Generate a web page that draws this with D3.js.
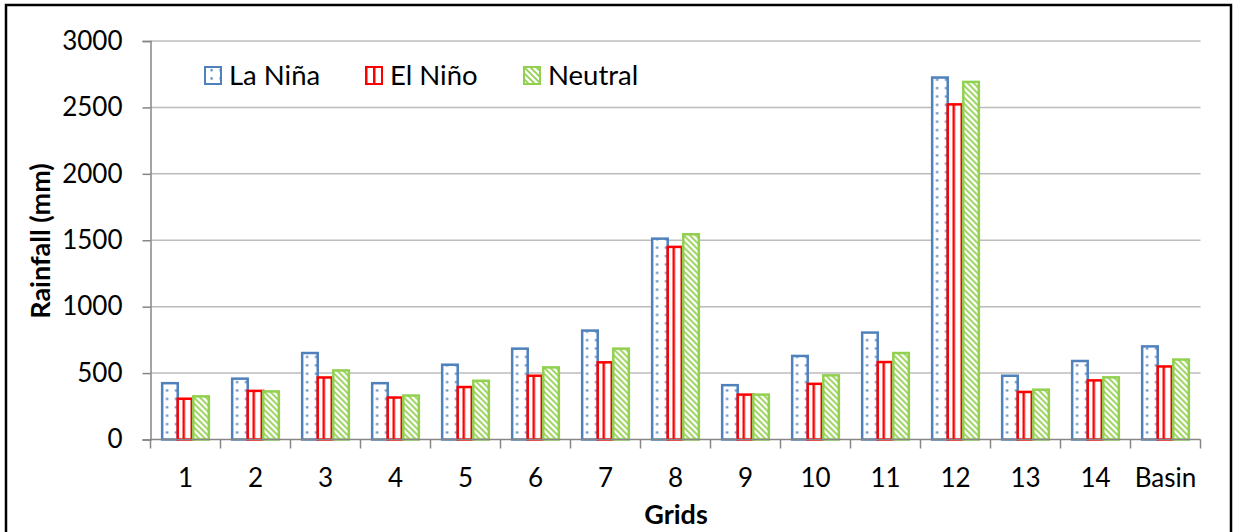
<!DOCTYPE html>
<html><head><meta charset="utf-8">
<script src="https://cdn.jsdelivr.net/npm/d3@7"></script>
<style>
html,body{margin:0;padding:0;background:#fff;}
svg text{font-family:Lato,"Open Sans",sans-serif;fill:#000;}
</style></head>
<body>
<svg id="chart" width="1238" height="532"></svg>
<script>
const categories = ["1","2","3","4","5","6","7","8","9","10","11","12","13","14","Basin"];
const seriesNames = ["La Niña","El Niño","Neutral"];
const laNina  = [424, 458, 651, 424, 563, 684, 820, 1512, 409, 629, 805, 2725, 480, 591, 701];
const elNino  = [307, 366, 467, 316, 395, 480, 581, 1450, 338, 419, 583, 2523, 358, 445, 550];
const neutral = [325, 362, 520, 331, 442, 543, 684, 1545, 338, 483, 651, 2692, 375, 468, 602];
const yTicks = [0, 500, 1000, 1500, 2000, 2500, 3000];

(function () {
const seriesValues = [laNina, elNino, neutral];
const colors = ["#4f81bd", "#ff0000", "#92d050"];
const patIds = ["patDots", "patVert", "patDiag"];

const svg = d3.select("#chart");
const defs = svg.append("defs");

// dotted pattern (La Niña)
const p1 = defs.append("pattern").attr("id","patDots").attr("patternUnits","userSpaceOnUse")
  .attr("width",9).attr("height",8.4);
p1.append("rect").attr("width",9).attr("height",8.4).attr("fill","#fff");
p1.append("rect").attr("x",6.5).attr("y",3).attr("width",2.2).attr("height",2.2).attr("fill","#4f81bd");

// vertical stripes (El Niño)
const p2 = defs.append("pattern").attr("id","patVert").attr("patternUnits","userSpaceOnUse")
  .attr("width",8).attr("height",8);
p2.append("rect").attr("width",8).attr("height",8).attr("fill","#fff");
p2.append("rect").attr("x",0).attr("y",0).attr("width",2.5).attr("height",8).attr("fill","#ff0000");

// diagonal hatch (Neutral)
const p3 = defs.append("pattern").attr("id","patDiag").attr("patternUnits","userSpaceOnUse")
  .attr("width",6).attr("height",6);
p3.append("rect").attr("width",6).attr("height",6).attr("fill","#fff");
p3.append("path").attr("d","M-1,-1 L7,7 M-4,2 L2,8 M4,-2 L10,4")
  .attr("stroke","#92d050").attr("stroke-width",1.8);

// outer frame
svg.append("rect").attr("x",6).attr("y",5).attr("width",1225).attr("height",530)
  .attr("fill","none").attr("stroke","#000").attr("stroke-width",2.5);

const pLeft = 150.5, pRight = 1200.5, pTop = 41, pBottom = 439.5;
const x0 = d3.scaleBand().domain(categories).range([pLeft, pRight]).padding(0);
const bw = x0.bandwidth();
const gapHalf = bw * 0.75 / 4.5;
const x1 = d3.scaleBand().domain(seriesNames).range([gapHalf, bw - gapHalf]).padding(0);
const y = d3.scaleLinear().domain([0, 3000]).range([pBottom, pTop]);

// gridlines
svg.append("g").selectAll("line").data(yTicks.filter(d => d > 0)).join("line")
  .attr("x1", pLeft).attr("x2", pRight)
  .attr("y1", d => y(d)).attr("y2", d => y(d))
  .attr("stroke", "#bcbcbc").attr("stroke-width", 1.5);

// y axis
const yAxis = d3.axisLeft(y).tickValues(yTicks).tickSize(8).tickPadding(20).tickFormat(d3.format("d"));
const gy = svg.append("g").attr("transform", `translate(${pLeft},0)`).call(yAxis);
gy.select(".domain").attr("stroke", "#868686").attr("stroke-width", 1.5);
gy.selectAll(".tick line").attr("stroke", "#868686").attr("stroke-width", 1.5);
gy.selectAll(".tick text").style("font-size", "26px").style("font-family", "Lato").attr("fill","#000");

// bars
const groups = svg.append("g").selectAll("g").data(categories).join("g")
  .attr("transform", d => `translate(${x0(d)},0)`);
groups.selectAll("rect").data((c, i) => seriesNames.map((s, k) => ({s, k, v: seriesValues[k][i]})))
  .join("rect")
  .attr("x", d => x1(d.s))
  .attr("width", x1.bandwidth())
  .attr("y", d => y(d.v))
  .attr("height", d => pBottom - y(d.v))
  .attr("fill", d => `url(#${patIds[d.k]})`)
  .attr("stroke", d => colors[d.k])
  .attr("stroke-width", 2.5);

// x axis
const gx = svg.append("g").attr("transform", `translate(0,${pBottom})`);
gx.append("line").attr("x1", pLeft).attr("x2", pRight).attr("y1", 0).attr("y2", 0)
  .attr("stroke", "#868686").attr("stroke-width", 1.5);
const bounds = categories.map(c => x0(c)).concat([x0(categories[categories.length-1]) + bw]);
gx.selectAll("line.tk").data(bounds).join("line").attr("class","tk")
  .attr("x1", d => d).attr("x2", d => d).attr("y1", 0).attr("y2", 9)
  .attr("stroke", "#868686").attr("stroke-width", 1.5);
gx.selectAll("text").data(categories).join("text")
  .attr("x", d => x0(d) + bw / 2).attr("y", 47)
  .attr("text-anchor", "middle").style("font-size", "26px")
  .text(d => d);

// axis titles
svg.append("text").attr("x", 676).attr("y", 524).attr("text-anchor","middle")
  .style("font-size","27px").style("font-weight","bold").text("Grids");
svg.append("text").attr("transform","translate(50,241) rotate(-90)").attr("text-anchor","middle")
  .style("font-size","27px").style("font-weight","bold").text("Rainfall (mm)");

// legend
const legX = [204, 365, 523];
const leg = svg.append("g").selectAll("g").data(seriesNames).join("g")
  .attr("transform", (d, i) => `translate(${legX[i]},66)`);
leg.append("rect").attr("x",1).attr("y",1).attr("width",16).attr("height",17)
  .attr("fill", (d, i) => `url(#${patIds[i]})`)
  .attr("stroke", (d, i) => colors[i]).attr("stroke-width", 2);
leg.append("text").attr("x", 25).attr("y", 18.5).style("font-size","27.5px").text(d => d);
})();
</script>
</body></html>
